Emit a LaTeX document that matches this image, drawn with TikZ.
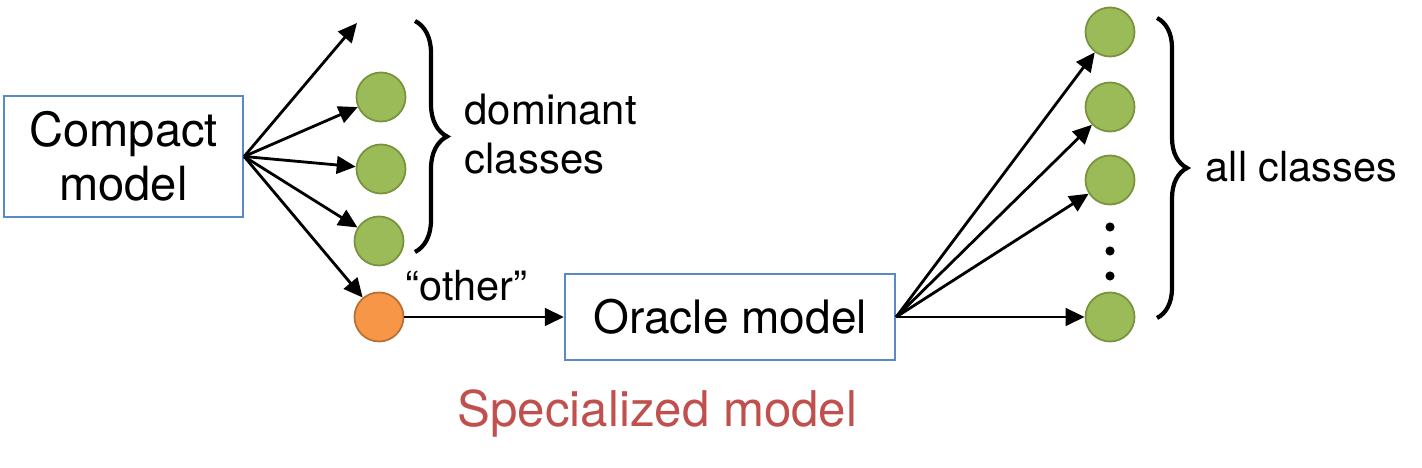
\documentclass[tikz,border=0pt]{standalone}
\usepackage{fontspec}
\setmainfont{TeX Gyre Heros}
\usetikzlibrary{arrows.meta,decorations.pathreplacing}
\definecolor{boxblue}{HTML}{5A8AC6}
\definecolor{gfill}{HTML}{9BBB59}
\definecolor{gline}{HTML}{77933C}
\definecolor{ofill}{HTML}{F79646}
\definecolor{oline}{HTML}{B97034}
\definecolor{redc}{HTML}{C0504D}
\tikzset{
  modelbox/.style={draw=boxblue, line width=0.6pt, inner sep=0pt, align=center},
  gcirc/.style={circle, draw=gline, fill=gfill, line width=0.5pt, minimum size=0.49cm, inner sep=0pt},
  ocirc/.style={circle, draw=oline, fill=ofill, line width=0.5pt, minimum size=0.49cm, inner sep=0pt},
  arr/.style={line width=0.8pt, -{Triangle[length=5.4pt,width=5pt]}},
  bracestyle/.style={line width=1.2pt, decorate},
  dotn/.style={circle, fill=black, minimum size=2.6pt, inner sep=0pt},
  lbl/.style={inner sep=0pt}
}
\begin{document}
\begin{tikzpicture}[x=0.01cm, y=-0.01cm]
\useasboundingbox (0,0) rectangle (1422,468);
% compact model
\node[modelbox, minimum width=2.39cm, minimum height=1.21cm,
      font=\fontsize{13.4}{15.4}\selectfont] (cm) at (123.5,156.5) {Compact\\model};
\coordinate (t0) at (357,23);
\node[gcirc] (d1) at (381,97) {};
\node[gcirc] (d2) at (381,169) {};
\node[gcirc] (d3) at (379,241) {};
\node[ocirc] (oth) at (379,317) {};
\draw[arr] (cm.east) -- (t0);
\draw[arr] (cm.east) -- (d1);
\draw[arr] (cm.east) -- (d2);
\draw[arr] (cm.east) -- (d3);
\draw[arr] (cm.east) -- (oth);
% left brace and label
\draw[bracestyle, decoration={brace, amplitude=0.32cm}] (415,21) -- (415,252);
\node[lbl, anchor=north west, align=left, font=\fontsize{11.9}{14}\selectfont] (dom) at (464,93) {dominant\\classes};
% oracle
\node[modelbox, minimum width=3.30cm, minimum height=0.86cm,
      font=\fontsize{13.1}{15}\selectfont] (orc) at (730,317) {Oracle model};
\draw[arr] (oth) -- (orc);
\node[lbl, anchor=base west, font=\fontsize{11.8}{14}\selectfont] (othl) at (405,301) {“other”};
% right classes
\node[gcirc] (r1) at (1110,32) {};
\node[gcirc] (r2) at (1110,107) {};
\node[gcirc] (r3) at (1110,180) {};
\node[gcirc] (r4) at (1110,317) {};
\node[dotn] (v1) at (1110,227) {};
\node[dotn] (v2) at (1110,251) {};
\node[dotn] (v3) at (1110,276) {};
\draw[arr] (orc.east) -- (r1);
\draw[arr] (orc.east) -- (r2);
\draw[arr] (orc.east) -- (r3);
\draw[arr] (orc.east) -- (r4);
\draw[bracestyle, decoration={brace, amplitude=0.30cm}] (1157,18) -- (1157,318);
\node[lbl, anchor=base west, font=\fontsize{11.8}{14}\selectfont] (allc) at (1205,182) {all classes};
% title
\node[lbl, anchor=base, text=redc, font=\fontsize{14}{16}\selectfont] (spec) at (657.5,427) {Specialized model};
\end{tikzpicture}
\end{document}
